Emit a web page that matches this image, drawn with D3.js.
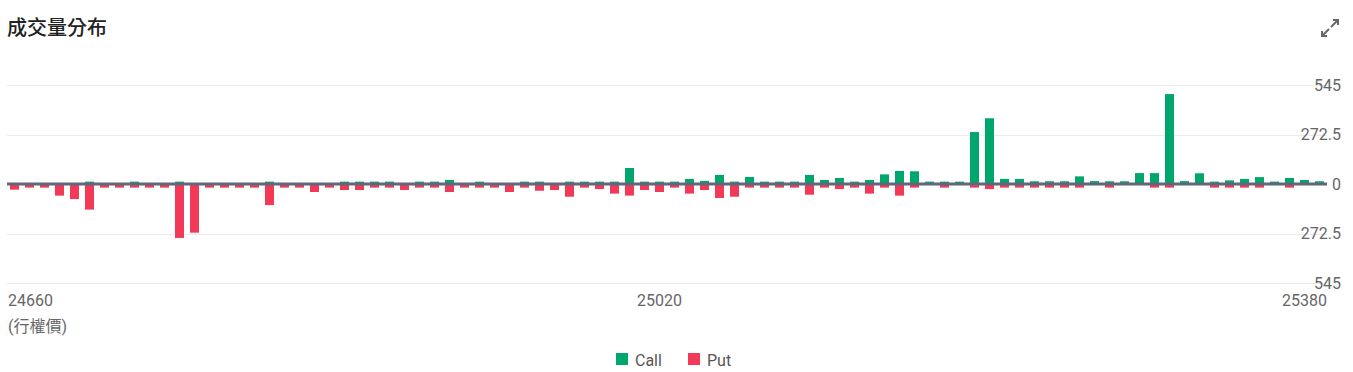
<!DOCTYPE html>
<html>
<head>
<meta charset="utf-8">
<script src="https://cdn.jsdelivr.net/npm/d3@7"></script>
<style>
  html, body { margin: 0; padding: 0; background: #fff; }
  svg { display: block; font-family: Roboto, "Noto Sans CJK TC", sans-serif; }
</style>
</head>
<body>
<svg id="chart" width="1353" height="372"></svg>
<script>
const strikes = [
  24660, 24670, 24680, 24690, 24700, 24710, 24720, 24730, 24740, 24750,
  24760, 24770, 24780, 24790, 24800, 24810, 24820, 24830, 24840, 24850,
  24860, 24870, 24880, 24890, 24900, 24910, 24920, 24930, 24940, 24950,
  24955, 24960, 24965, 24970, 24975, 24980, 24985, 24990, 24995, 25000,
  25005, 25010, 25015, 25020, 25025, 25030, 25035, 25040, 25045, 25050,
  25055, 25060, 25065, 25070, 25075, 25080, 25085, 25090, 25095, 25100,
  25110, 25120, 25130, 25140, 25150, 25160, 25170, 25180, 25190, 25200,
  25210, 25220, 25230, 25240, 25250, 25260, 25270, 25280, 25290, 25300,
  25310, 25320, 25330, 25340, 25350, 25360, 25370, 25380
];
const callVolume = [
  4, 4, 4, 4, 4, 13, 4, 4, 13, 4,
  4, 13, 4, 4, 4, 4, 4, 13, 4, 4,
  4, 4, 13, 13, 13, 13, 4, 13, 13, 22,
  4, 13, 4, 4, 13, 13, 4, 13, 13, 13,
  13, 88, 13, 13, 13, 28, 17, 50, 13, 39,
  13, 13, 13, 50, 22, 33, 13, 22, 53, 72,
  70, 13, 13, 13, 286, 362, 28, 28, 15, 15,
  15, 42, 16, 15, 15, 60, 60, 495, 16, 59,
  13, 20, 28, 38, 13, 33, 22, 15
];
const putVolume = [
  31, 20, 20, 64, 83, 141, 20, 20, 20, 20,
  20, 297, 268, 20, 20, 20, 20, 116, 20, 20,
  44, 20, 33, 33, 20, 20, 33, 20, 20, 44,
  20, 20, 20, 44, 20, 37, 33, 70, 20, 28,
  53, 64, 33, 44, 20, 53, 33, 77, 70, 20,
  20, 20, 20, 59, 20, 28, 20, 53, 20, 64,
  20, 4, 20, 4, 20, 28, 20, 20, 20, 20,
  20, 20, 4, 20, 4, 4, 20, 20, 4, 4,
  20, 20, 20, 20, 4, 20, 4, 4
];
const yTickValues = [-545, -272.5, 0, 272.5, 545];
const xTickLabels = ["24660", "25020", "25380"];
const xAxisTitle = "(行權價)";
const chartTitle = "成交量分布";
const seriesNames = ["Call", "Put"];
const colors = { Call: "#00a76d", Put: "#f23a58" };

(function () {
const svg = d3.select("#chart");
const plotLeft = 7, plotRight = 1327, plotTop = 85, plotBottom = 283;

const x = d3.scaleBand().domain(strikes).range([plotLeft, plotRight]).paddingInner(0.4).paddingOuter(0.2);
const y = d3.scaleLinear().domain([-545, 545]).range([plotBottom, plotTop]);

// title
svg.append("text").attr("x", 7).attr("y", 35)
  .attr("font-size", 20).attr("font-weight", 500).attr("fill", "#222")
  .text(chartTitle);

// expand icon
const icon = svg.append("g").attr("stroke", "#666").attr("stroke-width", 2).attr("fill", "none");
icon.append("line").attr("x1", 1331).attr("y1", 27).attr("x2", 1338).attr("y2", 20);
icon.append("polyline").attr("points", "1333,20 1338,20 1338,25");
icon.append("line").attr("x1", 1329).attr("y1", 29).attr("x2", 1322).attr("y2", 36);
icon.append("polyline").attr("points", "1322,31 1322,36 1327,36");

// gridlines
svg.append("g").selectAll("line").data(yTickValues.filter(v => v !== 0)).join("line")
  .attr("x1", plotLeft).attr("x2", plotRight)
  .attr("y1", d => Math.round(y(d)) + 0.5).attr("y2", d => Math.round(y(d)) + 0.5)
  .attr("stroke", "#ececec").attr("stroke-width", 1);

// y labels
svg.append("g").selectAll("text").data(yTickValues).join("text")
  .attr("x", 1341).attr("y", d => y(d)).attr("dy", "0.35em")
  .attr("text-anchor", "end").attr("font-size", 16).attr("fill", "#666")
  .text(d => String(Math.abs(d)));

// bars
const bw = x.bandwidth();
svg.append("g").selectAll("rect").data(strikes).join("rect")
  .attr("x", (d) => x(d)).attr("width", bw)
  .attr("y", (d, i) => y(callVolume[i]))
  .attr("height", (d, i) => y(0) - y(callVolume[i]))
  .attr("fill", colors.Call);
svg.append("g").selectAll("rect").data(strikes).join("rect")
  .attr("x", (d) => x(d)).attr("width", bw)
  .attr("y", y(0))
  .attr("height", (d, i) => y(-putVolume[i]) - y(0))
  .attr("fill", colors.Put);

// zero line
svg.append("line").attr("x1", plotLeft).attr("x2", plotRight)
  .attr("y1", y(0)).attr("y2", y(0))
  .attr("stroke", "#5f6778").attr("stroke-width", 3);

// x labels
const xIdx = [0, 43, strikes.length - 1];
const anchors = ["start", "middle", "end"];
xTickLabels.forEach((lbl, k) => {
  const cx = k === 0 ? 8 : (k === 2 ? plotRight : x(strikes[xIdx[k]]) + bw / 2);
  svg.append("text").attr("x", cx).attr("y", 306)
    .attr("text-anchor", anchors[k]).attr("font-size", 16).attr("fill", "#666")
    .text(lbl);
});
svg.append("text").attr("x", 8).attr("y", 332)
  .attr("font-size", 16).attr("fill", "#666").text(xAxisTitle);

// legend
const legendX = [616, 688];
seriesNames.forEach((name, k) => {
  svg.append("rect").attr("x", legendX[k]).attr("y", 353).attr("width", 12).attr("height", 12)
    .attr("fill", colors[name]);
  svg.append("text").attr("x", legendX[k] + 19).attr("y", 366)
    .attr("font-size", 16).attr("fill", "#555").text(name);
});
})();
</script>
</body>
</html>
